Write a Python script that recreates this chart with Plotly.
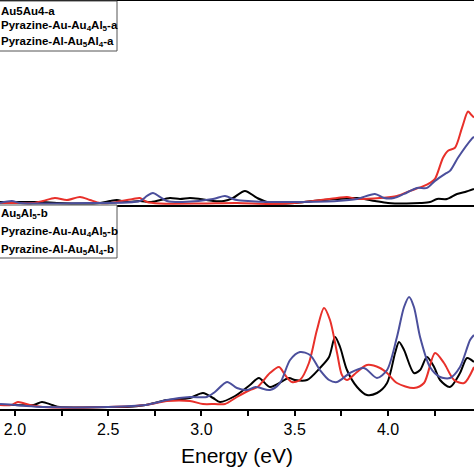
import plotly.graph_objects as go

# Painel superior (-a)
energia_a_black = [1.92, 2.0, 2.15, 2.225, 2.456, 2.509, 2.547, 2.60, 2.67, 2.73, 2.831, 2.885, 2.938, 2.992,
                   3.062, 3.12, 3.169, 3.233, 3.298, 3.367, 3.5, 3.6, 3.727, 3.834, 3.93, 4.0, 4.1, 4.172,
                   4.225, 4.263, 4.316, 4.37, 4.413, 4.461]
int_a_black = [3, 3, 3, 2, 2, 4, 5, 3, 4, 3, 7, 6, 7, 6,
               4, 4, 7, 14, 7, 2, 2, 4, 6, 7, 4, 2, 1.5, 2,
               3, 6, 6, 11, 13, 16]

energia_a_red = [1.92, 2.0, 2.097, 2.15, 2.214, 2.279, 2.349, 2.402, 2.456, 2.509, 2.633, 2.67, 2.708, 2.777,
                 3.0, 3.19, 3.367, 3.5, 3.727, 3.78, 3.834, 3.957, 4.048, 4.118, 4.193, 4.225, 4.252, 4.295,
                 4.322, 4.359, 4.397, 4.429, 4.445, 4.461]
int_a_red = [2, 2, 2, 4, 7, 5, 8, 5, 2, 2, 6, 7, 3, 1.5,
             1.5, 2, 1, 2, 7, 8, 6, 7, 9, 14, 19, 22, 26, 47,
             54, 57, 77, 93, 90, 87]

energia_a_blue = [1.92, 1.984, 2.027, 2.4, 2.67, 2.708, 2.74, 2.777, 2.815, 2.9, 3.062, 3.126, 3.169, 3.19,
                  3.25, 3.367, 3.5, 3.727, 3.834, 3.93, 3.979, 4.032, 4.086, 4.155, 4.209, 4.252, 4.306,
                  4.332, 4.375, 4.45, 4.461]
int_a_blue = [2, 4, 2, 2, 4, 9, 12, 8, 4, 3, 6, 9, 6, 5,
              4, 3, 3, 4, 6, 11, 7, 7, 11, 17, 17, 24, 31,
              34, 47, 66, 68]

# Painel inferior (-b)
energia_b_black = [1.92, 2.0, 2.1, 2.145, 2.2, 2.241, 2.5, 2.6, 2.7, 2.815, 2.938, 3.008, 3.062, 3.099,
                   3.18, 3.26, 3.308, 3.367, 3.469, 3.501, 3.566, 3.635, 3.684, 3.716, 3.743, 3.78, 3.834,
                   3.887, 3.941, 3.995, 4.038, 4.059, 4.086, 4.139, 4.172, 4.209, 4.247, 4.279, 4.332,
                   4.386, 4.424, 4.461]
int_b_black = [4, 4, 4, 7, 4, 2, 2, 2, 4, 9, 11, 16, 11, 7,
               13, 24, 31, 22, 31, 29, 29, 41, 52, 72, 62, 39, 22,
               14, 16, 26, 56, 67, 59, 36, 39, 52, 42, 29, 22,
               36, 51, 47]

energia_b_red = [1.92, 1.98, 2.016, 2.08, 2.15, 2.5, 2.7, 2.815, 2.938, 3.008, 3.072, 3.126, 3.19, 3.26,
                 3.3, 3.367, 3.416, 3.448, 3.485, 3.528, 3.576, 3.619, 3.657, 3.689, 3.727, 3.753, 3.78,
                 3.834, 3.887, 3.957, 3.995, 4.048, 4.139, 4.193, 4.252, 4.30, 4.354, 4.408, 4.461]
int_b_red = [4, 4, 7, 4, 2, 2, 4, 8, 8, 5, 5, 5, 12, 19,
             22, 36, 42, 34, 27, 29, 46, 79, 101, 89, 56, 34, 29,
             37, 44, 41, 36, 26, 21, 26, 56, 46, 29, 26, 42]

energia_b_blue = [1.92, 2.0, 2.06, 2.15, 2.5, 2.7, 2.815, 2.938, 3.029, 3.072, 3.137, 3.19, 3.244, 3.29,
                  3.367, 3.421, 3.475, 3.528, 3.582, 3.635, 3.684, 3.727, 3.796, 3.871, 3.941, 3.995,
                  4.048, 4.086, 4.113, 4.139, 4.172, 4.225, 4.279, 4.332, 4.386, 4.44, 4.461]
int_b_blue = [5, 4, 3, 2, 2, 4, 9, 12, 12, 17, 27, 21, 19, 22,
              19, 26, 49, 57, 54, 39, 29, 27, 36, 41, 31, 39,
              72, 102, 112, 102, 72, 42, 32, 31, 42, 69, 74]

nomes_a = ["Au5Au4-a",
           "Pyrazine-Au-Au<sub>4</sub>Al<sub>5</sub>-a",
           "Pyrazine-Al-Au<sub>5</sub>Al<sub>4</sub>-a"]
nomes_b = ["Au<sub>5</sub>Al<sub>5</sub>-b",
           "Pyrazine-Au-Au<sub>4</sub>Al<sub>5</sub>-b",
           "Pyrazine-Al-Au<sub>5</sub>Al<sub>4</sub>-b"]

cores = ["#000000", "#e8302a", "#4b4f9c"]
fonte = "Liberation Sans, Arial, sans-serif"

fig = go.Figure()

series_a = [(energia_a_black, int_a_black), (energia_a_red, int_a_red), (energia_a_blue, int_a_blue)]
series_b = [(energia_b_black, int_b_black), (energia_b_red, int_b_red), (energia_b_blue, int_b_blue)]

for (x, y), nome, cor in zip(series_a, nomes_a, cores):
    fig.add_trace(go.Scatter(x=x, y=y, name=nome, mode="lines", xaxis="x2", yaxis="y2",
                             line=dict(color=cor, width=2, shape="spline", smoothing=0.8),
                             showlegend=False))
for (x, y), nome, cor in zip(series_b, nomes_b, cores):
    fig.add_trace(go.Scatter(x=x, y=y, name=nome, mode="lines", xaxis="x", yaxis="y",
                             line=dict(color=cor, width=2, shape="spline", smoothing=0.8),
                             showlegend=False))

# pixel -> paper (area do grafico de y=1 a y=409)
def py(p):
    return (409 - p) / 408

# caixas de legenda (desenhadas a mao, cortadas a esquerda como no original)
for topo, base in [(1, 51), (205, 258)]:
    fig.add_shape(type="rect", xref="paper", yref="paper", x0=-0.02, x1=117 / 474,
                  y0=py(base), y1=py(topo), line=dict(color="#555555", width=1),
                  fillcolor="white", layer="above")

for nomes, linhas in [(nomes_a, [11, 26, 42]), (nomes_b, [214, 232, 250])]:
    for nome, lin in zip(nomes, linhas):
        fig.add_annotation(text="<b>" + nome + "</b>", xref="paper", yref="paper",
                           x=-0.003, y=py(lin), xanchor="left", yanchor="middle",
                           showarrow=False, font=dict(family=fonte, size=11.5, color="black"))

fig.update_layout(
    width=474, height=474,
    margin=dict(l=0, r=0, t=1, b=65, autoexpand=False),
    paper_bgcolor="white", plot_bgcolor="white",
    font=dict(family=fonte, color="black"),
    xaxis=dict(domain=[0, 1], anchor="y", range=[1.92, 4.461], tick0=2.0, dtick=0.5,
               tickformat=".1f", ticks="outside", ticklen=5, tickwidth=1.5, tickcolor="black",
               showline=True, linewidth=2, linecolor="black", mirror=False, showgrid=False,
               zeroline=False, tickfont=dict(size=16),
               minor=dict(dtick=0.25, ticks="outside", ticklen=5, tickwidth=1.5, tickcolor="black"),
               title=dict(text="Energy (eV)", font=dict(size=21), standoff=11)),
    xaxis2=dict(domain=[0, 1], anchor="y2", matches="x", showticklabels=False, ticks="",
                showline=True, linewidth=2, linecolor="black", mirror=True, showgrid=False,
                zeroline=False),
    yaxis=dict(domain=[0, 0.5], range=[0, 204], visible=False),
    yaxis2=dict(domain=[0.5, 1], range=[0, 203], visible=False),
)

# tira a margem padrao do body para a figura encostar no canto da janela
fig.write_html("out.html", config={"displayModeBar": False},
               post_script="document.body.style.margin='0';")
